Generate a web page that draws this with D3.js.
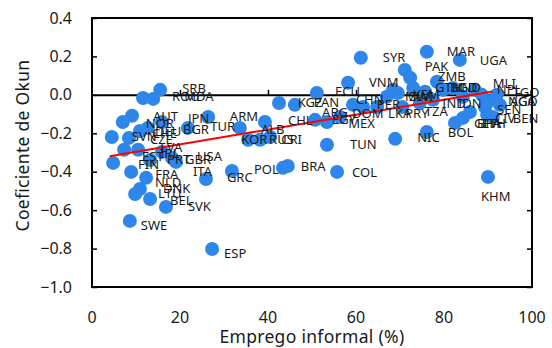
<!DOCTYPE html>
<html>
<head>
<meta charset="utf-8">
<script src="https://cdn.jsdelivr.net/npm/d3@7/dist/d3.min.js"></script>
<style>
  html, body { margin: 0; padding: 0; background: #fff; }
  svg { display: block; font-family: "Noto Sans", "Open Sans", sans-serif; }
</style>
</head>
<body>
<svg id="chart" width="552" height="348"></svg>
<script>
// Country codes, informal employment share (%) and Okun coefficient
const countries = ["ROU","MDA","SRB","AUT","NOR","SVN","DEU","CHE","BGR","JPN","TUR","CZE","LVA","EST","IRL","PRT","GBR","USA","FIN","FRA","NLD","DNK","LTU","BEL","SVK","SWE","ESP","ITA","GRC",
  "ARM","ALB","KOR","RUS","CRI","POL","BRA","COL","TUN","CHL","KGZ","PAN","ECU","ARG","EGY","CHN","DOM","MEX","PER","VNM","LKA","PRY","TZA","NIC","BOL",
  "GHA","ETH","BFA","SEN","CIV","BEN","NGA","TGO","AGO","MLI","NPL","GTM","HND","IND","IDN","YEM","MWI","SLV","BGD","SYR","MAR","UGA","PAK","ZMB","KHM"];
const informal = [11.6,13.9,15.5,9.1,7.0,4.5,10.9,12.7,15.9,21.8,26.4,8.4,10.5,7.3,15.9,13.2,18.2,19.1,4.8,8.9,12.3,10.9,9.8,13.2,16.8,8.6,27.3,25.9,31.8,
  33.6,39.3,35.5,38.2,40.5,43.4,44.5,55.7,53.4,42.5,46.1,51.1,58.2,50.7,53.4,59.3,61.6,56.4,67.0,68.4,64.8,70.5,74.5,68.9,76.1,
  82.5,84.3,85.9,89.8,89.3,91.1,90.0,92.0,92.7,87.0,88.6,79.8,82.0,77.5,84.3,73.0,75.7,69.5,78.4,61.1,76.1,83.6,71.1,72.3,90.0];
const okun = [-0.016,-0.021,0.026,-0.109,-0.141,-0.219,-0.188,-0.172,-0.141,-0.172,-0.115,-0.224,-0.286,-0.286,-0.297,-0.339,-0.328,-0.349,-0.354,-0.401,-0.432,-0.490,-0.516,-0.542,-0.583,-0.656,-0.802,-0.438,-0.396,
  -0.172,-0.141,-0.234,-0.234,-0.219,-0.380,-0.370,-0.401,-0.260,-0.042,-0.052,0.010,0.063,-0.130,-0.141,-0.052,-0.063,-0.115,-0.010,0.026,-0.063,-0.063,-0.042,-0.229,-0.193,
  -0.146,-0.120,-0.089,-0.104,-0.063,-0.115,-0.036,0.000,-0.052,0.026,0.000,0.026,0.036,-0.026,-0.010,0.036,0.016,0.010,0.068,0.193,0.224,0.182,0.130,0.089,-0.427];

// Fitted line end points
const fitX = [4, 91];
const fitY = [-0.320, 0.017];

const xTicks = [0, 20, 40, 60, 80, 100];
const yTicks = [0.4, 0.2, 0.0, -0.2, -0.4, -0.6, -0.8, -1.0];

// Label placement (pixels from the marker centre: left edge, vertical middle)
const labelDefault = [11, 5];
const labelShift = {
  ROU:[29,-1], MDA:[31,-2], SRB:[22,-1], AUT:[21,1], NOR:[23,2], SVN:[20,0], DEU:[15,0], CHE:[4,6], BGR:[21,8],
  JPN:[0,-9], TUR:[2,9], CZE:[21,2], LVA:[22,-2], EST:[18,7], IRL:[-2,2], PRT:[17,-1], GBR:[13,2], USA:[21,-5],
  FIN:[25,2], FRA:[24,3], NLD:[9,5], DNK:[23,-1], LTU:[23,-1], BEL:[20,1], SVK:[22,0], ESP:[12,4], ITA:[-13,-8],
  GRC:[-5,7], ARM:[-10,-11], ALB:[-4,8], KOR:[-7,0], RUS:[9,0], CRI:[11,3], POL:[-29,2], BRA:[13,0], COL:[15,1],
  TUN:[23,0], CHL:[9,18], KGZ:[3,-2], PAN:[-3,10], ECU:[-13,9], ARG:[7,-7], EGY:[5,-2], CHN:[3,-5], DOM:[-11,6],
  MEX:[8,6], PER:[-10,8], VNM:[-24,-7], LKA:[11,6], PRY:[3,6], TZA:[5,9], NIC:[22,-1], BOL:[21,1], GHA:[19,1],
  ETH:[19,6], BFA:[7,11], SEN:[10,-5], CIV:[10,11], BEN:[20,1], NGA:[20,0], TGO:[16,-2], AGO:[10,-3], MLI:[18,-6],
  NPL:[15,-5], GTM:[-8,-2], HND:[-1,0], IND:[9,4], IDN:[-5,7], YEM:[0,7], MWI:[-20,5], SLV:[11,4], BGD:[13,6],
  SYR:[22,0], MAR:[20,0], UGA:[20,1], PAK:[20,-3], ZMB:[28,-1], KHM:[-7,20]
};

const points = countries.map((c, i) => ({ code: c, x: informal[i], y: okun[i] }));

const W = 552, H = 348;
const m = { left: 92, right: 20, top: 18, bottom: 61 };
const svg = d3.select("#chart");

const x = d3.scaleLinear().domain([0, 100]).range([m.left, W - m.right]);
const y = d3.scaleLinear().domain([-1.0, 0.4]).range([H - m.bottom, m.top]);

const fmt = v => d3.format(".1f")(v).replace("-", "\u2212");
const textCol = "#1a1a1a";

// zero reference line with small ticks along it
svg.append("g")
  .attr("transform", `translate(0,${y(0)})`)
  .call(d3.axisTop(x).tickValues(xTicks.slice(1, -1)).tickSize(5).tickSizeOuter(0).tickFormat(""))
  .call(g => g.select(".domain").attr("stroke", "#000").attr("stroke-width", 2))
  .call(g => g.selectAll(".tick line").attr("stroke", "#000").attr("stroke-width", 1.5));

// markers
svg.append("g").selectAll("circle")
  .data(points)
  .join("circle")
  .attr("cx", d => x(d.x))
  .attr("cy", d => y(d.y))
  .attr("r", 7)
  .attr("fill", "#2e86ea");

// fitted line
svg.append("path")
  .datum(fitX.map((v, i) => [v, fitY[i]]))
  .attr("fill", "none")
  .attr("stroke", "#ff0000")
  .attr("stroke-width", 2)
  .attr("d", d3.line().x(d => x(d[0])).y(d => y(d[1])));

// country labels
svg.append("g").selectAll("text")
  .data(points)
  .join("text")
  .attr("x", d => x(d.x) + (labelShift[d.code] || labelDefault)[0])
  .attr("y", d => y(d.y) + (labelShift[d.code] || labelDefault)[1])
  .attr("dy", "0.35em")
  .attr("font-size", 13)
  .attr("fill", textCol)
  .text(d => d.code);

// left axis
svg.append("g")
  .attr("transform", `translate(${m.left},0)`)
  .call(d3.axisRight(y).tickValues(yTicks).tickSize(5).tickSizeOuter(0).tickFormat(""))
  .call(g => g.select(".domain").remove())
  .call(g => g.selectAll(".tick line").attr("stroke", "#000").attr("stroke-width", 1.5));

// right axis
svg.append("g")
  .attr("transform", `translate(${W - m.right},0)`)
  .call(d3.axisLeft(y).tickValues(yTicks).tickSize(5).tickSizeOuter(0).tickFormat(""))
  .call(g => g.select(".domain").remove())
  .call(g => g.selectAll(".tick line").attr("stroke", "#000").attr("stroke-width", 1.5));

// y tick labels
svg.append("g").selectAll("text")
  .data(yTicks)
  .join("text")
  .attr("x", m.left - 20)
  .attr("y", d => y(d))
  .attr("dy", "0.35em")
  .attr("text-anchor", "end")
  .attr("font-size", 16)
  .attr("fill", textCol)
  .text(fmt);

// x tick labels
svg.append("g").selectAll("text")
  .data(xTicks)
  .join("text")
  .attr("x", d => x(d))
  .attr("y", H - m.bottom + 30)
  .attr("dy", "0.35em")
  .attr("text-anchor", "middle")
  .attr("font-size", 16)
  .attr("fill", textCol)
  .text(d => d);

// frame
svg.append("rect")
  .attr("x", m.left).attr("y", m.top)
  .attr("width", W - m.left - m.right)
  .attr("height", H - m.top - m.bottom)
  .attr("fill", "none")
  .attr("stroke", "#000")
  .attr("stroke-width", 2);

// axis titles
svg.append("text")
  .attr("x", (m.left + W - m.right) / 2)
  .attr("y", 337)
  .attr("dy", "0.35em")
  .attr("text-anchor", "middle")
  .attr("font-size", 17.5)
  .attr("letter-spacing", 0.3)
  .attr("fill", textCol)
  .text("Emprego informal (%)");

svg.append("text")
  .attr("transform", `translate(23,${(m.top + H - m.bottom) / 2 - 7}) rotate(-90)`)
  .attr("dy", "0.35em")
  .attr("text-anchor", "middle")
  .attr("font-size", 17.5)
  .attr("letter-spacing", 0.3)
  .attr("fill", textCol)
  .text("Coeficiente de Okun");
</script>
</body>
</html>
